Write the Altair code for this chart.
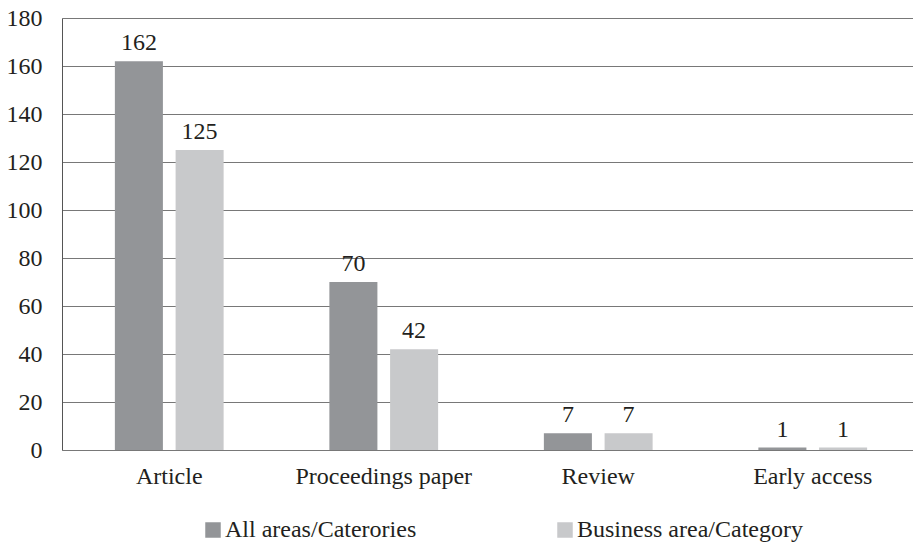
import altair as alt
import pandas as pd

categories = ["Article", "Proceedings paper", "Review", "Early access"]
series = ["All areas/Caterories", "Business area/Category"]
all_areas = [162, 70, 7, 1]
business = [125, 42, 7, 1]
y_ticks = [0, 20, 40, 60, 80, 100, 120, 140, 160, 180]
colors = ["#939598", "#c8c9cb"]

rows = []
for i, c in enumerate(categories):
    rows.append({"cat": c, "series": series[0], "value": all_areas[i]})
    rows.append({"cat": c, "series": series[1], "value": business[i]})
df = pd.DataFrame(rows)

FONT = "Liberation Serif"
TXT = "#231f20"
FS = 24

x = alt.X("cat:N", sort=categories, title=None,
          scale=alt.Scale(range=[0, 858], paddingInner=0.493, paddingOuter=0.2465),
          axis=alt.Axis(labelAngle=0, domain=False, ticks=False, labelPadding=14,
                        labelFont=FONT, labelFontSize=FS, labelColor=TXT, labelBaseline="top"))
xo = alt.XOffset("series:N", sort=series,
                 scale=alt.Scale(paddingInner=0.209, paddingOuter=0))
y = alt.Y("value:Q", title=None,
          scale=alt.Scale(domain=[0, 180], nice=False),
          axis=alt.Axis(values=y_ticks, grid=True, gridColor="#787878", gridWidth=1,
                        domain=True, domainColor="#555555", domainWidth=1,
                        ticks=False, labelPadding=20, labelFont=FONT, labelFontSize=FS,
                        labelColor=TXT))
color = alt.Color("series:N", sort=series,
                  scale=alt.Scale(domain=series, range=colors),
                  legend=alt.Legend(title=None, orient="none", direction="horizontal",
                                    legendX=139, legendY=500, symbolType="square",
                                    symbolSize=240, symbolStrokeWidth=0, symbolOffset=0,
                                    labelOffset=0, labelFont=FONT, labelFontSize=FS,
                                    labelColor=TXT, columnPadding=136, labelLimit=400))

bars = alt.Chart(df).mark_bar().encode(x=x, xOffset=xo, y=y, color=color)
labels = alt.Chart(df).mark_text(font=FONT, fontSize=FS, color=TXT, baseline="alphabetic",
                                 dy=-11).encode(x=x, xOffset=xo, y=y, text="value:Q")

chart = (bars + labels).properties(
    width=851, height=432,
    autosize=alt.AutoSizeParams(type="none"),
    padding={"left": 62, "top": 18, "right": 0, "bottom": 92},
).configure_view(stroke=None).configure(background="white", font=FONT)

chart.save("out.html", embed_options={"renderer": "svg", "actions": False})
